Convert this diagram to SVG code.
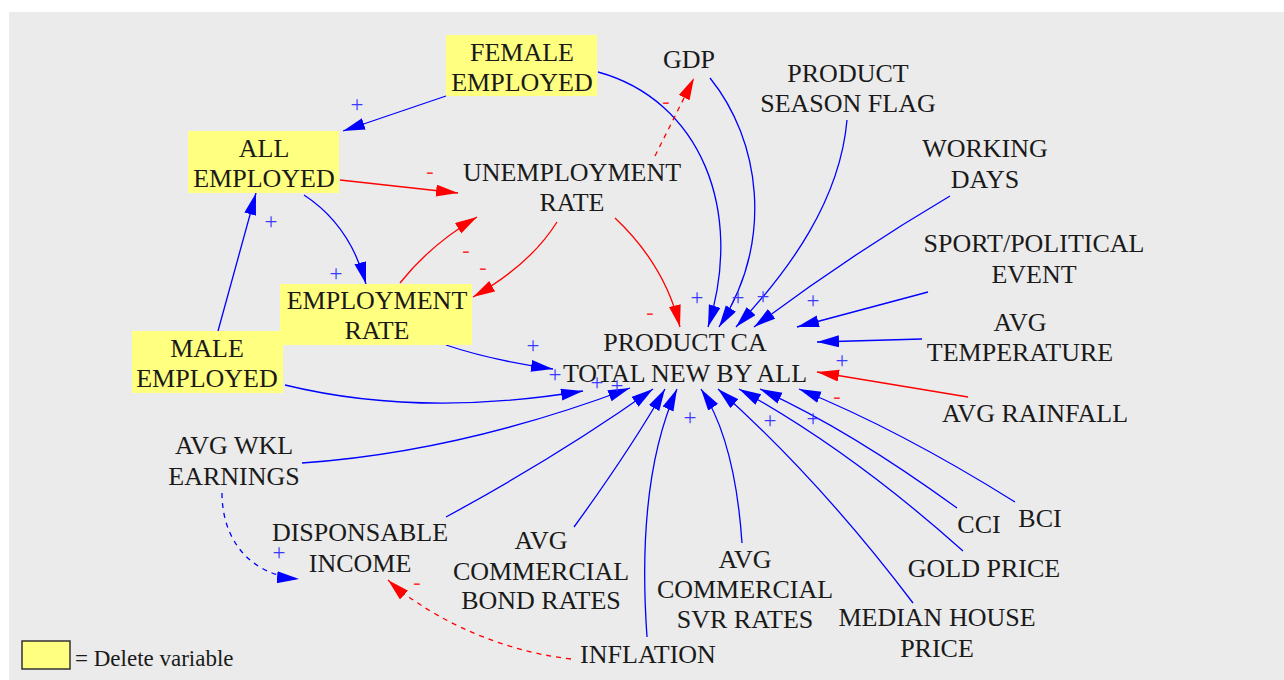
<svg xmlns="http://www.w3.org/2000/svg" width="1284" height="680" viewBox="0 0 1284 680">
<defs>
<marker id="ab" markerUnits="userSpaceOnUse" markerWidth="24" markerHeight="14" refX="22" refY="6" orient="auto"><path d="M0,0 L22,6 L0,12 z" fill="#0000ff"/></marker>
<marker id="ar" markerUnits="userSpaceOnUse" markerWidth="24" markerHeight="14" refX="22" refY="6" orient="auto"><path d="M0,0 L22,6 L0,12 z" fill="#ff0000"/></marker>
<style>
text{font-family:"Liberation Serif","DejaVu Serif","Times New Roman",serif}
.t{font-size:26px;fill:#1a1a1a;text-anchor:middle}
.box{fill:#ffff80}
.b{fill:none;stroke:#0000ff;stroke-width:1.3;marker-end:url(#ab)}
.r{fill:none;stroke:#ff0000;stroke-width:1.3;marker-end:url(#ar)}
.d{stroke-dasharray:5,5}
.p{font-size:23px;fill:#3a3aff;text-anchor:middle}
.m{font-size:22px;fill:#ff3030;text-anchor:middle}
.lg{font-size:23px;fill:#1a1a1a}
</style>
</defs>
<rect x="0" y="0" width="1284" height="680" fill="#ffffff"/>
<rect x="9" y="12" width="1275" height="668" fill="#ebebeb"/>
<g id="connectors">
<path class="b" d="M446,96 L343,131"/>
<path class="b" d="M598,72 C700,100 745,210 708,327"/>
<path class="b" d="M710,78 C760,140 775,240 719,327"/>
<path class="b" d="M847,120 C840,200 790,270 736,327"/>
<path class="b" d="M950,196 Q850,255 754,327"/>
<path class="b" d="M928,292 L797,327"/>
<path class="b" d="M922,339 L817,342"/>
<path class="b" d="M304,195 Q350,225 366,284"/>
<path class="b" d="M218,331 L256,193"/>
<path class="b" d="M446,345 Q490,360 553,369"/>
<path class="b" d="M285,385 Q420,418 583,391"/>
<path class="b" d="M302,463 Q460,452 630,388"/>
<path class="b" d="M446,517 Q560,455 653,389"/>
<path class="b" d="M574,527 Q630,450 665,389"/>
<path class="b" d="M647,637 Q636,480 677,389"/>
<path class="b" d="M742,543 Q735,440 701,389"/>
<path class="b" d="M913,603 Q820,480 718,389"/>
<path class="b" d="M963,551 Q850,450 739,389"/>
<path class="b" d="M957,508 Q850,430 760,389"/>
<path class="b" d="M1015,502 Q900,430 799,389"/>
<path class="b d" d="M222,493 C222,540 250,575 299,579"/>
<path class="r" d="M340,180 L458,193"/>
<path class="r" d="M400,283 Q430,245 477,217"/>
<path class="r" d="M557,222 Q530,265 473,297"/>
<path class="r" d="M615,218 Q665,265 680,327"/>
<path class="r" d="M968,397 L817,372"/>
<path class="r d" d="M655,156 L694,78"/>
<path class="r d" d="M571,659 C490,650 420,610 388,580"/>
</g>
<g id="polarity">
<text class="p" x="357" y="112">+</text>
<text class="p" x="271" y="229">+</text>
<text class="p" x="336" y="281">+</text>
<text class="p" x="533" y="353">+</text>
<text class="p" x="555" y="382">+</text>
<text class="p" x="597" y="390">+</text>
<text class="p" x="617" y="393">+</text>
<text class="p" x="697" y="305">+</text>
<text class="p" x="738" y="305">+</text>
<text class="p" x="763" y="304">+</text>
<text class="p" x="813" y="308">+</text>
<text class="p" x="842" y="368">+</text>
<text class="p" x="690" y="425">+</text>
<text class="p" x="770" y="428">+</text>
<text class="p" x="813" y="426">+</text>
<text class="p" x="279" y="560">+</text>
<text class="m" x="430" y="178">-</text>
<text class="m" x="466" y="257">-</text>
<text class="m" x="483" y="274">-</text>
<text class="m" x="666" y="108">-</text>
<text class="m" x="650" y="319">-</text>
<text class="m" x="837" y="403">-</text>
<text class="m" x="417" y="589">-</text>
</g>
<g id="female-employed"><rect class="box" x="446" y="35" width="151" height="61"/><text class="t" x="522" y="61">FEMALE</text><text class="t" x="522" y="91">EMPLOYED</text></g>
<g id="all-employed"><rect class="box" x="188" y="131" width="151" height="62"/><text class="t" x="264" y="157">ALL</text><text class="t" x="264" y="187">EMPLOYED</text></g>
<g id="male-employed"><rect class="box" x="132" y="331" width="151" height="62"/><text class="t" x="207" y="357">MALE</text><text class="t" x="207" y="387">EMPLOYED</text></g>
<g id="employment-rate"><rect class="box" x="280" y="284" width="192" height="61"/><text class="t" x="377" y="309">EMPLOYMENT</text><text class="t" x="377" y="339">RATE</text></g>
<g id="unemployment-rate"><text class="t" x="572" y="181">UNEMPLOYMENT</text><text class="t" x="572" y="211">RATE</text></g>
<g id="gdp"><text class="t" x="689" y="68">GDP</text></g>
<g id="product-season-flag"><text class="t" x="848" y="82">PRODUCT</text><text class="t" x="848" y="112">SEASON FLAG</text></g>
<g id="working-days"><text class="t" x="985" y="157">WORKING</text><text class="t" x="985" y="188">DAYS</text></g>
<g id="sport-political-event"><text class="t" x="1034" y="252">SPORT/POLITICAL</text><text class="t" x="1034" y="283">EVENT</text></g>
<g id="avg-temperature"><text class="t" x="1020" y="331">AVG</text><text class="t" x="1020" y="361">TEMPERATURE</text></g>
<g id="avg-rainfall"><text class="t" x="1035" y="422">AVG RAINFALL</text></g>
<g id="bci"><text class="t" x="1040" y="527">BCI</text></g>
<g id="cci"><text class="t" x="979" y="533">CCI</text></g>
<g id="gold-price"><text class="t" x="984" y="577">GOLD PRICE</text></g>
<g id="median-house-price"><text class="t" x="937" y="626">MEDIAN HOUSE</text><text class="t" x="937" y="657">PRICE</text></g>
<g id="avg-commercial-svr-rates"><text class="t" x="745" y="568">AVG</text><text class="t" x="745" y="598">COMMERCIAL</text><text class="t" x="745" y="628">SVR RATES</text></g>
<g id="inflation"><text class="t" x="648" y="663">INFLATION</text></g>
<g id="avg-commercial-bond-rates"><text class="t" x="541" y="549">AVG</text><text class="t" x="541" y="580">COMMERCIAL</text><text class="t" x="541" y="609">BOND RATES</text></g>
<g id="disponsable-income"><text class="t" x="360" y="541">DISPONSABLE</text><text class="t" x="360" y="572">INCOME</text></g>
<g id="avg-wkl-earnings"><text class="t" x="234" y="454">AVG WKL</text><text class="t" x="234" y="485">EARNINGS</text></g>
<g id="product-ca-total"><text class="t" x="685" y="351">PRODUCT CA</text><text class="t" x="685" y="382">TOTAL NEW BY ALL</text></g>
<g id="legend"><rect x="22" y="641" width="48" height="28" fill="#ffff80" stroke="#333" stroke-width="1.5"/><text class="lg" x="75" y="666">= Delete variable</text></g>
</svg>
